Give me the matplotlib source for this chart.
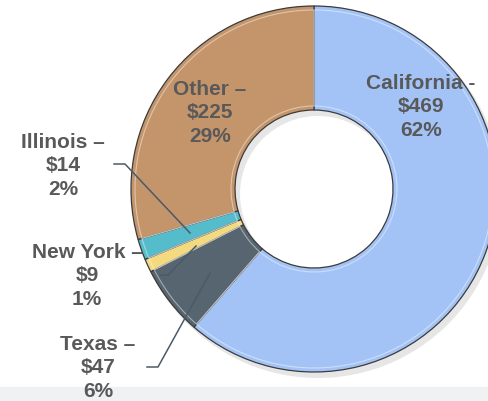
import matplotlib
matplotlib.use("Agg")
import matplotlib.pyplot as plt
from matplotlib.patches import Rectangle

# donut data, clockwise from 12 o'clock
STATES = ["California", "Texas", "New York", "Illinois", "Other"]
VALUES = [469, 47, 9, 14, 225]
PCT = ["62%", "6%", "1%", "2%", "29%"]
DASH = [" -", " –", " –", " –", " –"]
COLORS = ["#a3c3f6", "#56656f", "#f3d980", "#55bccb", "#c4956a"]

# label centre (middle line) in pixel space (x, y from top)
LABEL_POS = [(421, 107), (98, 368), (87, 276), (63, 166), (210, 113)]
# leader lines (pixel space, y from top)
LEADERS = {
    "Texas": [(147, 368), (158, 368), (210, 274)],
    "New York": [(160, 276), (168, 276), (196, 247)],
    "Illinois": [(114, 165), (125, 165), (190, 234)],
}

W, H = 488, 402
CX, CY = 314, 190
R_OUT, R_IN = 183, 79
TXT = "#595959"


def main():
    plt.rcParams["font.family"] = ["Liberation Sans", "DejaVu Sans"]
    fig = plt.figure(figsize=(W / 100, H / 100), dpi=100)
    ax = fig.add_axes([0, 0, 1, 1])

    ax.add_patch(Rectangle((0, 0), W, H - 388, color="#f0f1f3", zorder=0))

    # soft shadow, offset to the lower right
    ax.pie([1], radius=R_OUT + 1, center=(CX + 4, H - CY - 5), colors=["#dcdcdc"],
           wedgeprops=dict(width=R_OUT - R_IN + 2, linewidth=0, alpha=0.7),
           frame=False)
    ax.pie(VALUES, radius=R_OUT, center=(CX, H - CY), colors=COLORS,
           startangle=90, counterclock=False,
           wedgeprops=dict(width=R_OUT - R_IN, edgecolor="#3b3b3b",
                           linewidth=0.9), frame=False)
    # bevel highlight
    ax.pie(VALUES, radius=R_OUT - 4, center=(CX, H - CY), colors=["none"] * 5,
           startangle=90, counterclock=False,
           wedgeprops=dict(width=R_OUT - R_IN - 8, edgecolor="white",
                           linewidth=0.8, alpha=0.45), frame=False)

    for name, pts in LEADERS.items():
        xs = [p[0] for p in pts]
        ys = [H - p[1] for p in pts]
        ax.plot(xs, ys, color="#4b5a68", lw=1.1, zorder=5)

    for i, name in enumerate(STATES):
        x, y = LABEL_POS[i]
        txt = f"{name}{DASH[i]}\n${VALUES[i]}\n{PCT[i]}"
        ax.text(x, H - y, txt, ha="center", va="center", fontsize=15,
                fontweight="bold", color=TXT, linespacing=1.3, zorder=6)

    ax.set_xlim(0, W)
    ax.set_ylim(0, H)
    ax.set_aspect("equal")
    ax.axis("off")
    fig.savefig("out.png", dpi=100)


if __name__ == "__main__":
    main()
